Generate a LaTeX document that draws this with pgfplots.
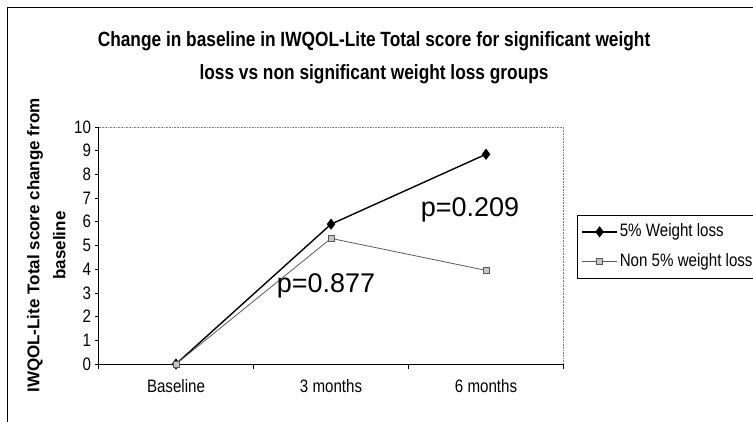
\documentclass[border=0pt]{standalone}
\usepackage{pgfplots}
\pgfplotsset{compat=1.18}
\usepackage{pgfplotstable}
\usepackage{fontspec}
\setmainfont{Liberation Sans}
\newfontfamily\narrowsf[FakeStretch=0.84]{Liberation Sans}
\newfontfamily\titlesf[FakeStretch=0.84]{Liberation Sans}

% IWQOL-Lite total score change from baseline
\pgfplotstableread{
x y
0 0
1 5.9
2 8.85
}\sigloss
\pgfplotstableread{
x y
0 0
1 5.3
2 3.95
}\nonsigloss

\begin{document}
\begin{tikzpicture}[x=1bp,y=1bp]
\useasboundingbox (0,0) rectangle (753,421);
% outer chart frame
\draw[line width=0.9bp] (7,-5) -- (7,414) -- (760,414);
\begin{axis}[
  at={(98.5bp,57bp)}, anchor=south west,
  scale only axis, width=465bp, height=237bp,
  xmin=-0.5, xmax=2.5, ymin=0, ymax=10,
  axis lines*=left,
  axis line style={line width=0.9bp},
  xtick={0,1,2},
  xticklabels={Baseline,3 months,6 months},
  major x tick style={draw=none},
  minor xtick={-0.5,0.5,1.5,2.5},
  ytick={0,1,...,10},
  tick align=outside,
  major tick length=4bp, minor tick length=5bp,
  tick style={black, line width=0.8bp},
  ticklabel style={font=\narrowsf\fontsize{18bp}{20bp}\selectfont},
  /pgf/number format/assume math mode=true,
  xticklabel style={yshift=-8bp},
  ylabel={IWQOL-Lite Total score change from\\baseline},
  ylabel style={at={(axis description cs:-0.112,0.5)}, anchor=center,
    align=center, font=\bfseries\fontsize{17bp}{26bp}\selectfont},
  title={Change in baseline in IWQOL-Lite Total score for significant weight\\loss vs non significant weight loss groups},
  title style={at={(axis description cs:0.5925,1.266)}, anchor=center,
    align=center, font=\titlesf\bfseries\fontsize{20.6bp}{33bp}\selectfont},
  legend style={at={(axis description cs:1.029,0.629)}, anchor=north west,
    draw=black, line width=0.8bp, fill=white,
    font=\narrowsf\fontsize{18bp}{20bp}\selectfont,
    inner xsep=4bp, inner ysep=5bp, row sep=7bp,
    nodes={inner sep=2bp, text height=14bp, text depth=5bp},
    cells={anchor=west}},
  legend image code/.code={%
    \draw[mark repeat=2, mark phase=2, #1]
      plot coordinates {(0bp,0bp) (17.5bp,0bp) (35bp,0bp)};},
  clip=false,
]
\draw[gray, line width=0.6bp, densely dotted]
  (rel axis cs:0,1) -- (rel axis cs:1,1) -- (rel axis cs:1,0);

\addplot[black, line width=1.4bp, mark=diamond*, mark size=4.5bp,
  mark options={solid, fill=black}] table[x=x, y=y] {\sigloss};
\addlegendentry{5\% Weight loss}

\addplot[black!65, line width=0.8bp, mark=square*, mark size=3bp,
  mark options={solid, fill=gray!45, draw=gray!70!black}] table[x=x, y=y] {\nonsigloss};
\addlegendentry{Non 5\% weight loss}

\node[font=\fontsize{27bp}{30bp}\selectfont] at (axis cs:1.897,6.5) {p=0.209};
\node[font=\fontsize{27bp}{30bp}\selectfont] at (axis cs:0.968,3.3) {p=0.877};
\end{axis}
\end{tikzpicture}
\end{document}
